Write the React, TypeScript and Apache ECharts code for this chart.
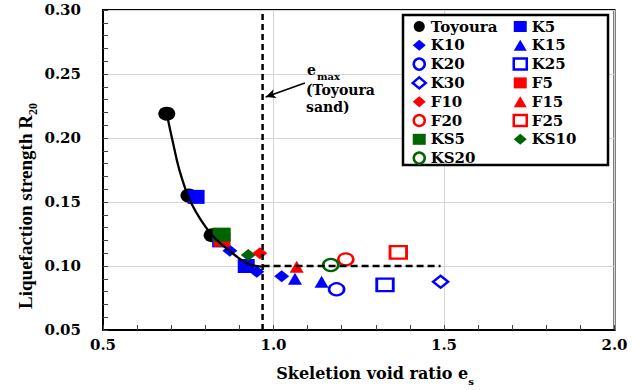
import React, { useEffect, useRef } from 'react';
import * as echarts from 'echarts';

// ---- Data ----
const toyouraX = [0.687, 0.752, 0.82];
const toyouraY = [0.219, 0.155, 0.124];
const k5X = [0.773, 0.845, 0.92];
const k5Y = [0.154, 0.12, 0.1];
const k10X = [0.872, 0.951, 1.024];
const k10Y = [0.112, 0.0955, 0.092];
const k15X = [1.063, 1.141];
const k15Y = [0.09, 0.0877];
const k20X = [1.185];
const k20Y = [0.0818];
const k25X = [1.327];
const k25Y = [0.0852];
const k30X = [1.49];
const k30Y = [0.0877];
const f5X = [0.849];
const f5Y = [0.1205];
const f10X = [0.96];
const f10Y = [0.11];
const f15X = [1.068];
const f15Y = [0.0995];
const f20X = [1.212];
const f20Y = [0.1052];
const f25X = [1.366];
const f25Y = [0.1107];
const ks5X = [0.848];
const ks5Y = [0.1245];
const ks10X = [0.926];
const ks10Y = [0.1086];
const ks20X = [1.168];
const ks20Y = [0.1008];

// fitted trend curve
const curveX = [0.687, 0.703, 0.724, 0.757, 0.82, 0.894, 0.933, 0.965];
const curveY = [0.219, 0.199, 0.175, 0.15, 0.124, 0.107, 0.101, 0.0995];

// e_max of Toyoura sand and the R = 0.10 level
const emaxX = [0.968, 0.968];
const emaxY = [0.05, 0.3];
const levelX = [0.968, 1.49];
const levelY = [0.1, 0.1];

const legendLeft = ['Toyoura', 'K10', 'K20', 'K30', 'F10', 'F20', 'KS5', 'KS20'];
const legendRight = ['K5', 'K15', 'K25', 'F5', 'F15', 'F25', 'KS10'];

const X_MIN = 0.5, X_MAX = 2.0, X_STEP = 0.5;
const Y_MIN = 0.05, Y_MAX = 0.3, Y_STEP = 0.05;

const BLUE = '#0000ff';
const RED = '#ff0000';
const GREEN = '#006400';
const BLACK = '#000000';
const WIDE = 'DejaVu Serif';
const TIMES = 'Liberation Serif';

const pts = (xs: number[], ys: number[]) => xs.map((x, i) => [x, ys[i]]);

type Spec = {
  name: string; xs: number[]; ys: number[]; symbol: string;
  size: number[]; color: string; open?: boolean; z: number;
};

const specs: Spec[] = [
  { name: 'Toyoura', xs: toyouraX, ys: toyouraY, symbol: 'circle', size: [17, 14], color: BLACK, z: 2 },
  { name: 'K5', xs: k5X, ys: k5Y, symbol: 'rect', size: [17, 14], color: BLUE, z: 3 },
  { name: 'K10', xs: k10X, ys: k10Y, symbol: 'diamond', size: [15, 12], color: BLUE, z: 3 },
  { name: 'K15', xs: k15X, ys: k15Y, symbol: 'triangle', size: [14, 12], color: BLUE, z: 3 },
  { name: 'K20', xs: k20X, ys: k20Y, symbol: 'circle', size: [15, 12], color: BLUE, open: true, z: 3 },
  { name: 'K25', xs: k25X, ys: k25Y, symbol: 'rect', size: [16.5, 12.5], color: BLUE, open: true, z: 3 },
  { name: 'K30', xs: k30X, ys: k30Y, symbol: 'diamond', size: [15, 12], color: BLUE, open: true, z: 3 },
  { name: 'F5', xs: f5X, ys: f5Y, symbol: 'rect', size: [17, 14], color: RED, z: 4 },
  { name: 'F10', xs: f10X, ys: f10Y, symbol: 'diamond', size: [15, 12], color: RED, z: 6 },
  { name: 'F15', xs: f15X, ys: f15Y, symbol: 'triangle', size: [14, 12], color: RED, z: 4 },
  { name: 'F20', xs: f20X, ys: f20Y, symbol: 'circle', size: [15, 12], color: RED, open: true, z: 4 },
  { name: 'F25', xs: f25X, ys: f25Y, symbol: 'rect', size: [16.5, 12.5], color: RED, open: true, z: 4 },
  { name: 'KS5', xs: ks5X, ys: ks5Y, symbol: 'rect', size: [18, 14], color: GREEN, z: 5 },
  { name: 'KS10', xs: ks10X, ys: ks10Y, symbol: 'diamond', size: [15, 12], color: GREEN, z: 5 },
  { name: 'KS20', xs: ks20X, ys: ks20Y, symbol: 'circle', size: [15, 12], color: GREEN, open: true, z: 5 },
];

const legendItem = (name: string) => {
  const s = specs.find((p) => p.name === name)!;
  return s.open ? { name, itemStyle: { borderWidth: 2.5 } } : { name };
};

const legendCommon = {
  orient: 'vertical',
  itemWidth: 13,
  itemHeight: 11,
  itemGap: 3.8,
  padding: 0,
  symbolKeepAspect: false,
  selectedMode: false,
  textStyle: { fontFamily: WIDE, fontWeight: 'bold', fontSize: 15, color: BLACK, lineHeight: 14 },
};

export default function App() {
  const ref = useRef<HTMLDivElement>(null);

  useEffect(() => {
    if (!ref.current) return;
    const chart = echarts.init(ref.current, undefined, { renderer: 'svg' });

    const scatterSeries = specs.map((s) => ({
      type: 'scatter',
      name: s.name,
      z: s.z,
      symbol: s.symbol,
      symbolSize: s.size,
      data: pts(s.xs, s.ys),
      itemStyle: s.open
        ? { color: '#ffffff', borderColor: s.color, borderWidth: 2.5, opacity: 1 }
        : { color: s.color, borderWidth: 0, opacity: 1 },
      emphasis: { disabled: true },
    }));

    const option: any = {
      animation: false,
      backgroundColor: '#ffffff',
      grid: {
        left: 103, right: 24.5, top: 10, bottom: 60,
        show: true, borderColor: BLACK, borderWidth: 2, backgroundColor: 'transparent',
      },
      xAxis: {
        type: 'value', min: X_MIN, max: X_MAX, interval: X_STEP,
        axisLine: { lineStyle: { color: BLACK, width: 2 } },
        axisTick: { inside: true, length: 5, lineStyle: { color: '#444' } },
        minorTick: { show: true, splitNumber: 5, length: 5, lineStyle: { color: '#444' } },
        splitLine: { show: true, lineStyle: { color: '#d4d4d4', width: 1 } },
        axisLabel: {
          margin: 7, color: BLACK, fontFamily: WIDE, fontWeight: 'bold', fontSize: 15,
          formatter: (v: number) => v.toFixed(1),
        },
      },
      yAxis: {
        type: 'value', min: Y_MIN, max: Y_MAX, interval: Y_STEP,
        axisLine: { lineStyle: { color: BLACK, width: 2 } },
        axisTick: { inside: true, length: 5, lineStyle: { color: '#444' } },
        minorTick: { show: true, splitNumber: 5, length: 5, lineStyle: { color: '#444' } },
        splitLine: { show: true, lineStyle: { color: '#d4d4d4', width: 1 } },
        axisLabel: {
          margin: 22, color: BLACK, fontFamily: WIDE, fontWeight: 'bold', fontSize: 15,
          formatter: (v: number) => v.toFixed(2),
        },
      },
      legend: [
        { ...legendCommon, left: 411.5, top: 19, data: legendLeft.map(legendItem) },
        { ...legendCommon, left: 512.5, top: 19, data: legendRight.map(legendItem) },
      ],
      graphic: [
        {
          type: 'rect', z: 3, shape: { x: 403, y: 15, width: 205, height: 150 },
          style: { fill: '#ffffff', stroke: BLACK, lineWidth: 2.5 },
        },
        {
          type: 'text', x: 26, y: 206, rotation: Math.PI / 2, z: 10,
          style: {
            text: '{a|Liquefaction strength R}{b|20}',
            align: 'center', verticalAlign: 'middle', fill: BLACK,
            rich: {
              a: { fontFamily: TIMES, fontWeight: 'bold', fontSize: 19, lineHeight: 20, verticalAlign: 'top', fill: BLACK },
              b: { fontFamily: TIMES, fontWeight: 'bold', fontSize: 12, lineHeight: 12, padding: [11, 0, 0, 0], verticalAlign: 'top', fill: BLACK },
            },
          },
        },
        {
          type: 'text', x: 375, y: 374, z: 10,
          style: {
            text: '{a|Skeletion void ratio e}{b|s}',
            align: 'center', verticalAlign: 'middle', fill: BLACK,
            rich: {
              a: { fontFamily: WIDE, fontWeight: 'bold', fontSize: 16, lineHeight: 18, verticalAlign: 'top', fill: BLACK },
              b: { fontFamily: WIDE, fontWeight: 'bold', fontSize: 10, lineHeight: 10, padding: [11, 0, 0, 0], verticalAlign: 'top', fill: BLACK },
            },
          },
        },
        {
          type: 'text', x: 307, y: 63, z: 10,
          style: {
            text: '{a|e}{b|max}',
            align: 'left', verticalAlign: 'top', fill: BLACK,
            rich: {
              a: { fontFamily: WIDE, fontWeight: 'bold', fontSize: 14, lineHeight: 16, verticalAlign: 'top', fill: BLACK },
              b: { fontFamily: WIDE, fontWeight: 'bold', fontSize: 10, lineHeight: 10, padding: [8, 0, 0, 1], verticalAlign: 'top', fill: BLACK },
            },
          },
        },
        {
          type: 'text', x: 306, y: 81, z: 10,
          style: {
            text: '(Toyoura\nsand)', align: 'left', verticalAlign: 'top', fill: BLACK,
            fontFamily: WIDE, fontWeight: 'bold', fontSize: 14, lineHeight: 17,
          },
        },
      ],
      series: [
        ...scatterSeries,
        {
          type: 'line', name: 'emax', z: 7, silent: true,
          data: pts(emaxX, emaxY), showSymbol: false, symbol: 'none',
          lineStyle: { color: BLACK, width: 2.5, type: [6, 4] },
          markLine: {
            silent: true, symbol: ['none', 'arrow'], symbolSize: [7, 10],
            label: { show: false },
            lineStyle: { color: BLACK, width: 1.5, type: 'solid' },
            data: [[{ coord: [1.092, 0.243] }, { coord: [0.977, 0.232] }]],
          },
        },
        {
          type: 'line', name: 'level', z: 7, silent: true,
          data: pts(levelX, levelY), showSymbol: false, symbol: 'none',
          lineStyle: { color: BLACK, width: 2.5, type: [7, 4] },
        },
        {
          type: 'line', name: 'curve', z: 8, silent: true,
          data: pts(curveX, curveY), showSymbol: false, symbol: 'none',
          smooth: 0.3,
          lineStyle: { color: BLACK, width: 2.3 },
        },
      ],
    };

    chart.setOption(option);
    return () => chart.dispose();
  }, []);

  return <div ref={ref} style={{ width: 639, height: 390, position: 'absolute', left: 0, top: 0 }} />;
}
